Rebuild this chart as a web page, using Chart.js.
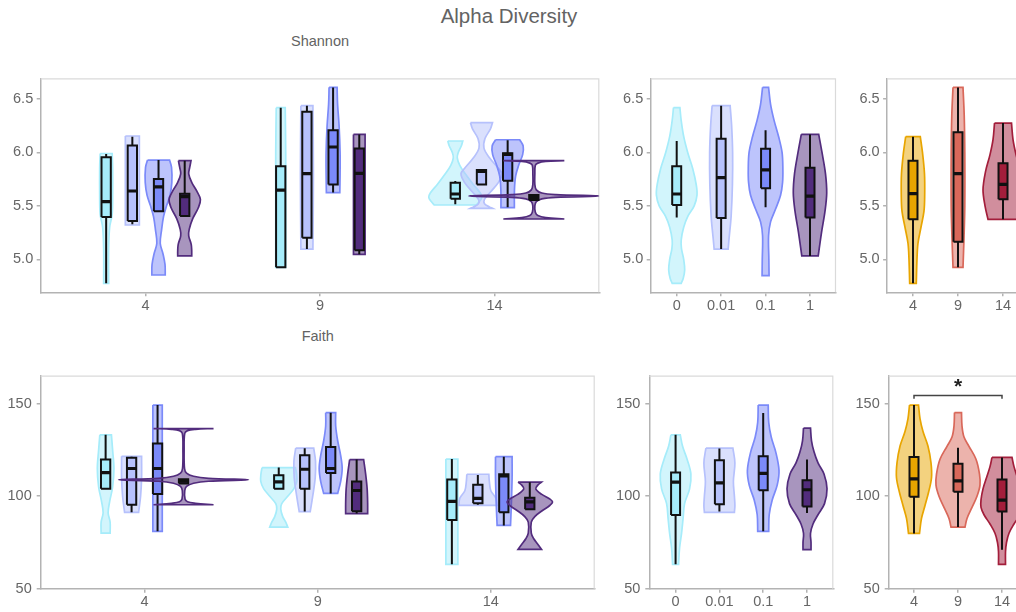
<!DOCTYPE html>
<html><head><meta charset="utf-8">
<script src="https://cdn.jsdelivr.net/npm/chart.js@4.4.1/dist/chart.umd.min.js"></script>
<style>
html,body{margin:0;padding:0;width:1016px;height:612px;overflow:hidden;background:#fff;}
.lbl{position:absolute;color:#636363;white-space:nowrap;line-height:1;font-family:"Liberation Sans",Arial,sans-serif;}
canvas{position:absolute;}
</style></head><body>
<div class="lbl" style="left:1px;width:1016px;text-align:center;top:6px;font-size:20.5px;">Alpha Diversity</div>
<div class="lbl" style="left:291px;top:34.4px;font-size:14.5px;">Shannon</div>
<div class="lbl" style="left:301.7px;top:328.7px;font-size:14.5px;">Faith</div>
<canvas id="c1"></canvas><canvas id="c2"></canvas><canvas id="c3"></canvas>
<canvas id="c4"></canvas><canvas id="c5"></canvas><canvas id="c6"></canvas>
<script>
// ---------------- data ----------------
const timePoints = [4, 9, 14];
const timeLabels = ['4', '9', '14'];
const groupLabels = ['0', '0.01', '0.1', '1'];
const groupColors = ['#a6ecfa', '#b6c1fc', '#7b8af9', '#522c7d'];
const timeColors = ['#e8a500', '#d9685a', '#a31e3b'];
const shannonTicks = [5.0, 5.5, 6.0, 6.5];
const faithTicks = [50, 100, 150];
const sigPair = ['4', '14'];
const sigLabel = '*';
const sigLevel = 154.5;

// box stats: [lower whisker, q1, median, q3, upper whisker]; one entry per time point (4, 9, 14)
const shanTG_box0 = [[4.775,5.396,5.539,5.954,5.985],[4.925,4.925,5.648,5.870,6.419],[5.514,5.567,5.611,5.717,5.733]];
const shanTG_box1 = [[5.327,5.358,5.639,6.066,6.148],[5.096,5.202,5.801,6.381,6.438],[5.701,5.701,5.823,5.836,5.836]];
const shanTG_box2 = [[5.449,5.449,5.677,5.751,5.929],[5.624,5.701,6.051,6.207,6.609],[5.486,5.736,5.982,5.992,6.113]];
const shanTG_box3 = [[5.405,5.405,5.586,5.614,5.923],[5.046,5.084,5.804,6.038,6.169],[5.555,5.555,5.580,5.602,5.602]];
// violin density profiles: [value, density] from top to bottom
const shanTG_vio0 = [
  [[5.99,6],[5.85,6.5],[5.6,6.5],[5.42,6],[5.3,3.5],[5.1,2.5],[4.775,2.5]],
  [[6.419,4.5],[6.0,5],[5.5,5],[4.925,5]],
  [[6.107,7.5],[6.06,6],[6.0,3],[5.95,2],[5.88,4.5],[5.8,10],[5.7,18],[5.62,25],[5.58,26.5],[5.54,24],[5.508,21]]];
const shanTG_vio1 = [
  [[6.154,7],[5.9,7],[5.6,7],[5.321,7]],
  [[6.438,6],[5.8,6.5],[5.096,6]],
  [[6.279,11],[6.22,9],[6.13,3.5],[6.04,2.5],[5.95,8],[5.85,17],[5.8,20.5],[5.72,17],[5.63,9],[5.56,3],[5.52,3],[5.49,8],[5.477,11]]];
const shanTG_vio2 = [
  [[5.929,11],[5.86,13],[5.72,13.3],[5.6,11.5],[5.5,8],[5.4,5],[5.27,3],[5.15,1.7],[5.05,4.5],[4.95,6.5],[4.853,6.7]],
  [[6.609,4],[6.45,4.5],[6.25,6],[6.0,7],[5.8,7],[5.624,6.7]],
  [[6.119,12],[6.06,15.5],[5.98,15],[5.88,11],[5.78,8],[5.65,6.8],[5.483,6.7]]];
const shanTG_vio3 = [
  [[5.923,6.3],[5.86,5],[5.8,4],[5.72,7],[5.64,12],[5.56,15.7],[5.48,13.5],[5.38,8],[5.28,4.5],[5.22,4],[5.14,6.5],[5.08,7],[5.031,7]],
  [[6.169,5.8],[5.6,5.8],[5.046,5.8]],
  [[5.923,30.5],[5.915,12],[5.9,4],[5.88,1.5],[5.8,1],[5.7,1],[5.65,2.5],[5.62,8],[5.605,22],[5.592,65],[5.58,22],[5.565,8],[5.54,2.5],[5.5,1],[5.44,1.5],[5.41,4],[5.39,12],[5.377,30.5]]];

const shanG_box = [[5.390,5.508,5.611,5.870,6.107],[5.096,5.386,5.764,6.129,6.438],[5.486,5.664,5.836,6.035,6.207],[5.031,5.390,5.592,5.857,6.169]];
const shanG_vio = [
  [[6.419,3.2],[6.3,4.5],[6.15,7],[6.0,11],[5.85,16],[5.7,19.5],[5.6,20.3],[5.5,17.5],[5.4,11],[5.3,7],[5.18,4.5],[5.1,4.8],[5.0,7],[4.9,8],[4.82,6.5],[4.775,4.5]],
  [[6.438,9],[6.25,10.5],[6.0,11.5],[5.7,11.3],[5.4,10],[5.2,8],[5.096,7]],
  [[6.609,3],[6.45,5],[6.3,8.5],[6.15,13],[6.0,16.5],[5.85,17.3],[5.72,17],[5.6,15],[5.47,10],[5.35,5],[5.22,3],[5.0,3.3],[4.847,3.5]],
  [[6.169,8.7],[6.0,12],[5.8,15.5],[5.62,16.7],[5.45,15],[5.25,11.5],[5.031,8.2]]];

const shanT_box = [[4.775,5.374,5.614,5.923,6.148],[4.925,5.165,5.801,6.188,6.609],[5.374,5.561,5.701,5.898,6.275]];
const shanT_vio = [
  [[6.148,7.3],[6.0,9.5],[5.8,11.5],[5.6,11.7],[5.45,11],[5.3,8],[5.15,5],[5.0,4],[4.775,3.3]],
  [[6.609,5],[6.35,6.2],[6.0,6.8],[5.5,6.8],[5.2,6],[4.925,5]],
  [[6.275,8.5],[6.12,10],[5.98,13],[5.82,17.5],[5.65,20],[5.5,18],[5.374,15]]];

const faithTG_box0 = [[104.0,104.0,112.8,119.9,133.2],[104.0,104.0,107.8,111.4,115.5],[63.2,87.2,97.2,109.0,120.1]];
const faithTG_box1 = [[91.3,95.4,115.0,120.8,121.4],[91.7,104.0,114.6,122.1,126.0],[95.4,96.2,98.8,106.2,111.5]];
const faithTG_box2 = [[81.0,101.2,115.0,128.5,149.3],[101.5,112.6,115.0,126.6,145.2],[84.2,91.3,111.0,111.9,121.4]];
const faithTG_box3 = [[106.9,106.9,108.1,109.2,109.2],[90.6,91.9,103.1,108.0,119.8],[92.9,92.9,97.0,99.2,107.6]];
const faithTG_vio0 = [
  [[133.2,5.8],[125,7],[115,8.3],[105,7],[97,4],[91,2.5],[86,4.5],[80.1,4.5]],
  [[115.5,16.7],[112,17.8],[108,18],[104,15],[100,9],[96,3],[93,2],[89,4],[86,7],[83.3,9]],
  [[120.1,6],[100,6],[80,6],[63.2,6]]];
const faithTG_vio1 = [
  [[121.6,10],[110,10],[100,9],[91.3,7]],
  [[126,9],[119,10.8],[110,10.5],[100,8],[91.7,5.5]],
  [[111.9,11],[108,11.5],[103,13],[99,18],[95.1,19]]];
const faithTG_vio2 = [
  [[149.3,4.7],[115,4.7],[81,4.7]],
  [[145.2,5],[138,5],[130,7],[122,10],[115,11.5],[108,10],[101.5,7]],
  [[121.4,8.3],[110,8.3],[95,7.5],[84.2,6.7]]];
const faithTG_vio3 = [
  [[136.6,30],[136.2,12],[135.5,4],[134,1.2],[125,0.6],[115,1],[112.5,3],[110.8,10],[109.7,25],[108.9,65],[108.1,25],[107,10],[105.3,3],[103,1.2],[98.5,1.5],[97,4],[96.2,12],[95.4,30]],
  [[119.8,7],[112,9],[104,10.5],[96,11],[90.6,11]],
  [[107.6,11.7],[106,8],[104,6],[101,12],[98.5,20],[96.9,22.8],[95,20],[92,12],[89,5],[86,1.5],[80,1.5],[77,4],[74,8],[71.3,11.7]]];

const faithG_box = [[63.2,89.9,107.6,112.8,133.2],[91.7,95.6,107.2,119.4,125.8],[81.0,103.3,112.4,121.6,145.0],[91.0,94.4,103.5,108.7,119.8]];
const faithG_vio = [
  [[133.2,4.7],[127,7],[120,11.5],[112,15.3],[104,14],[96,9],[88,7.5],[80,6],[72,4],[63.2,3]],
  [[126,13.5],[118,15.5],[108,14],[100,15],[95,15.5],[91.3,15]],
  [[149.3,5],[140,5.5],[132,8],[124,12.5],[114,15.8],[106,14],[98,9],[90,6],[81,5.5]],
  [[136.8,3.5],[130,4.5],[124,7],[118,11],[112,17],[104,20],[96,17.5],[90,11],[85,6],[80,3.5],[75,4],[71.1,4]]];

const faithT_box = [[79.9,99.7,109.4,121.2,149.3],[83.3,102.4,108.3,117.6,126.2],[71.1,91.7,97.9,109.0,121.0]];
const faithT_vio = [
  [[149.3,4.5],[142,6],[135,9],[127,14],[118,17],[110,17.5],[102,14.5],[95,11],[88,7.5],[79.9,5.5]],
  [[145.2,3.5],[138,4],[132,6],[127,11],[120,18],[112,21.5],[106,22],[100,19],[94,14],[88,9],[83.3,7]],
  [[121,10],[116,12],[110,15.5],[104,19],[98,21],[94,21],[90,18],[85,12],[80,7],[75,4.5],[70,3.5],[63.2,3.5]]];

// ---------------- rendering ----------------
const FONT = "'Liberation Sans', Arial, sans-serif";
const groupOffsets = [-1.125, -0.375, 0.375, 1.125];

function rgba(hex, a) {
  const n = parseInt(hex.slice(1), 16);
  return `rgba(${n >> 16},${(n >> 8) & 255},${n & 255},${a})`;
}

function buildDatasets(items, k, bw) {
  const out = []; let seq = 0;
  const push = d => { d.order = -(seq++); d.pointRadius = 0; d.showLine = true; out.push(d); };
  for (const it of items) {
    const {cx, prof, box, color} = it;
    const n = prof.length;
    const L = i => ({x: cx - prof[i][1] * k, y: prof[i][0]});
    const R = i => ({x: cx + prof[i][1] * k, y: prof[i][0]});
    const pts = [L(0), R(0), R(0)];
    for (let i = 1; i < n - 1; i++) pts.push(R(i));
    pts.push(R(n - 1), R(n - 1), L(n - 1), L(n - 1));
    for (let i = n - 2; i >= 1; i--) pts.push(L(i));
    pts.push(L(0));
    push({data: pts, fill: 'shape', backgroundColor: rgba(color, 0.5), borderColor: color, borderWidth: 1.7, tension: 0.35});
    const [lo, q1, md, q3, hi] = box;
    push({data: [{x: cx, y: lo}, {x: cx, y: q1}, {x: cx, y: null}, {x: cx, y: q3}, {x: cx, y: hi}],
          spanGaps: false, fill: false, borderColor: '#111', borderWidth: 2, tension: 0});
    push({data: [{x: cx - bw, y: q1}, {x: cx + bw, y: q1}, {x: cx + bw, y: q3}, {x: cx - bw, y: q3}, {x: cx - bw, y: q1}],
          fill: 'shape', backgroundColor: color, borderColor: '#111', borderWidth: 2, tension: 0, borderJoinStyle: 'miter'});
    push({data: [{x: cx - bw, y: md}, {x: cx + bw, y: md}], fill: false, borderColor: '#111', borderWidth: 3.2, tension: 0});
  }
  return out;
}

const framePlugin = {
  id: 'frame',
  beforeDatasetsDraw(chart) {
    const {ctx, chartArea: a} = chart;
    ctx.save();
    ctx.strokeStyle = '#dadada'; ctx.lineWidth = 1.2;
    ctx.beginPath();
    ctx.moveTo(a.left, a.top + 0.5); ctx.lineTo(a.right - 0.5, a.top + 0.5); ctx.lineTo(a.right - 0.5, a.bottom);
    ctx.stroke();
    ctx.restore();
  }
};

function makeChart(id, rect, xr, yr, xVals, xLabels, yVals, yFmt, yPad, datasets, extraPlugins) {
  const cv = document.getElementById(id);
  const cl = Math.floor(rect.l - 50), ct = Math.floor(rect.t - 12);
  const cw = Math.ceil(rect.r + 12 - cl), ch = Math.ceil(rect.b + 30 - ct);
  Object.assign(cv.style, {left: cl + 'px', top: ct + 'px', width: cw + 'px', height: ch + 'px'});
  cv.width = cw; cv.height = ch;
  const yW = rect.l - cl, padT = rect.t - ct, padR = cw - (rect.r - cl), padB = ch - (rect.b - ct) - 30;
  const axisCol = '#b3b3b3';
  return new Chart(cv, {
    type: 'scatter',
    data: {datasets},
    options: {
      responsive: false, animation: false, devicePixelRatio: 1, events: [],
      layout: {padding: {left: 0, top: padT, right: padR, bottom: padB}},
      plugins: {legend: {display: false}, tooltip: {enabled: false}},
      scales: {
        x: {type: 'linear', position: 'bottom', min: xr[0], max: xr[1], bounds: 'data',
          afterBuildTicks: s => { s.ticks = xVals.map(v => ({value: v})); },
          afterFit: s => { s.height = 30; },
          ticks: {autoSkip: false, maxRotation: 0, padding: 1, color: '#666', font: {family: FONT, size: 14.5},
                  callback: (v, i) => xLabels[i]},
          grid: {drawOnChartArea: false, drawTicks: true, tickLength: 4, color: axisCol, lineWidth: 1.5},
          border: {display: true, color: axisCol, width: 1.5}},
        y: {type: 'linear', position: 'left', min: yr[0], max: yr[1], bounds: 'data',
          afterBuildTicks: s => { s.ticks = yVals.map(v => ({value: v})); },
          afterFit: s => { s.width = yW; },
          ticks: {autoSkip: false, padding: yPad, color: '#666', font: {family: FONT, size: 14.5}, callback: v => yFmt(v)},
          grid: {drawOnChartArea: false, drawTicks: true, tickLength: 4, color: axisCol, lineWidth: 1.5},
          border: {display: true, color: axisCol, width: 1.5}}
      }
    },
    plugins: [framePlugin, ...(extraPlugins || [])]
  });
}

function tgItems(boxes, vios) {
  const items = [];
  boxes.forEach((bs, g) => bs.forEach((b, t) => items.push({cx: timePoints[t] + groupOffsets[g], prof: vios[g][t], box: b, color: groupColors[g]})));
  return items;
}
function catItems(boxes, vios, colors) {
  return boxes.map((b, i) => ({cx: i, prof: vios[i], box: b, color: colors[i]}));
}
const fmt1 = v => v.toFixed(1);
const fmt0 = v => String(v);
const shanY = [4.691, 6.694], faithY = [50, 165.18];

// Panel 1: Shannon by time and group
{
  const rect = {l: 40.7, t: 78.3, r: 599.3, b: 292.3}, xr = [1, 17];
  const k = (xr[1] - xr[0]) / (rect.r - rect.l);
  makeChart('c1', rect, xr, shanY, timePoints, timeLabels, shannonTicks, fmt1, 3.5,
    buildDatasets(tgItems([shanTG_box0, shanTG_box1, shanTG_box2, shanTG_box3], [shanTG_vio0, shanTG_vio1, shanTG_vio2, shanTG_vio3]), k, 4.65 * k));
}
// Panel 2: Shannon by group
{
  const rect = {l: 650.7, t: 78.3, r: 836, b: 292.3}, xr = [-0.585, 3.585];
  const k = (xr[1] - xr[0]) / (rect.r - rect.l);
  makeChart('c2', rect, xr, shanY, [0, 1, 2, 3], groupLabels, shannonTicks, fmt1, 3.5,
    buildDatasets(catItems(shanG_box, shanG_vio, groupColors), k, 4.5 * k));
}
// Panel 3: Shannon by time
{
  const rect = {l: 887.1, t: 78.3, r: 1028.9, b: 292.3}, xr = [-0.575, 2.575];
  const k = (xr[1] - xr[0]) / (rect.r - rect.l);
  makeChart('c3', rect, xr, shanY, [0, 1, 2], timeLabels, shannonTicks, fmt1, 3.5,
    buildDatasets(catItems(shanT_box, shanT_vio, timeColors), k, 4.5 * k));
}
// Panel 4: Faith by time and group
{
  const rect = {l: 40.7, t: 374, r: 594.7, b: 588.7}, xr = [1, 17];
  const k = (xr[1] - xr[0]) / (rect.r - rect.l);
  makeChart('c4', rect, xr, faithY, timePoints, timeLabels, faithTicks, fmt0, 5,
    buildDatasets(tgItems([faithTG_box0, faithTG_box1, faithTG_box2, faithTG_box3], [faithTG_vio0, faithTG_vio1, faithTG_vio2, faithTG_vio3]), k, 4.65 * k));
}
// Panel 5: Faith by group
{
  const rect = {l: 649.3, t: 374, r: 833.3, b: 588.7}, xr = [-0.6, 3.6];
  const k = (xr[1] - xr[0]) / (rect.r - rect.l);
  makeChart('c5', rect, xr, faithY, [0, 1, 2, 3], groupLabels, faithTicks, fmt0, 5,
    buildDatasets(catItems(faithG_box, faithG_vio, groupColors), k, 4.5 * k));
}
// Panel 6: Faith by time, with significance bracket
{
  const rect = {l: 888.7, t: 374, r: 1027.3, b: 588.7}, xr = [-0.575, 2.575];
  const k = (xr[1] - xr[0]) / (rect.r - rect.l);
  const ds = buildDatasets(catItems(faithT_box, faithT_vio, timeColors), k, 4.5 * k);
  const i0 = timeLabels.indexOf(sigPair[0]), i1 = timeLabels.indexOf(sigPair[1]);
  const tick = 1.8;
  ds.push({data: [{x: i0, y: sigLevel - tick}, {x: i0, y: sigLevel}, {x: i1, y: sigLevel}, {x: i1, y: sigLevel - tick}],
           showLine: true, fill: false, borderColor: '#444', borderWidth: 1.5, pointRadius: 0, tension: 0, clip: false, order: -1000});
  const sigPlugin = {
    id: 'sig',
    afterDatasetsDraw(chart) {
      const {ctx} = chart, x = chart.scales.x, y = chart.scales.y;
      ctx.save();
      ctx.fillStyle = '#222'; ctx.font = `bold 21px ${FONT}`; ctx.textAlign = 'center'; ctx.textBaseline = 'alphabetic';
      ctx.fillText(sigLabel, x.getPixelForValue((i0 + i1) / 2), y.getPixelForValue(sigLevel) - 2.5);
      ctx.restore();
    }
  };
  makeChart('c6', rect, xr, faithY, [0, 1, 2], timeLabels, faithTicks, fmt0, 5, ds, [sigPlugin]);
}
</script>
</body></html>
